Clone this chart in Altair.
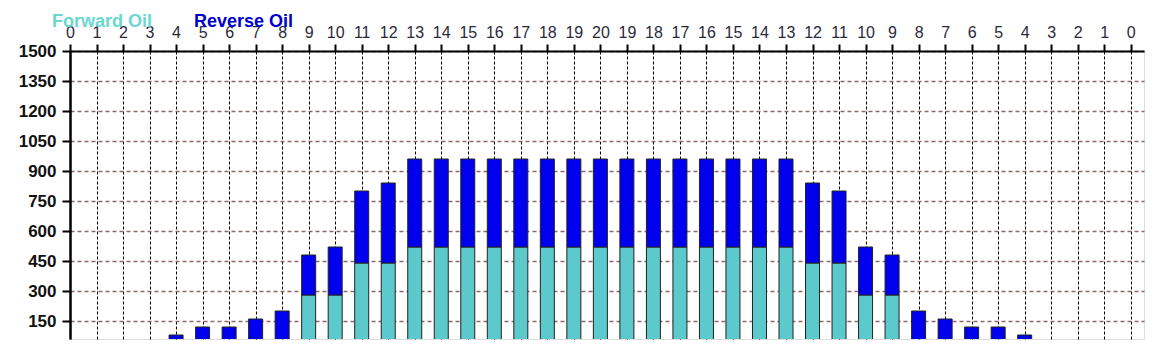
import altair as alt
import pandas as pd

# 41 positions along the top axis
tick_labels = [str(i) for i in range(0, 21)] + [str(i) for i in range(19, -1, -1)]
forward_oil = [0, 0, 0, 0, 0, 0, 0, 0, 0, 280, 280, 440, 440,
               520, 520, 520, 520, 520, 520, 520, 520, 520, 520, 520, 520, 520, 520, 520,
               440, 440, 280, 280, 0, 0, 0, 0, 0, 0, 0, 0, 0]
reverse_oil = [0, 0, 0, 0, 80, 120, 120, 160, 200, 200, 240, 360, 400,
               440, 440, 440, 440, 440, 440, 440, 440, 440, 440, 440, 440, 440, 440, 440,
               400, 360, 240, 200, 200, 160, 120, 120, 80, 0, 0, 0, 0]
series = ["Forward Oil", "Reverse Oil"]
colors = ["#5ccacc", "#0000ee"]

rows = []
for i in range(len(tick_labels)):
    rows.append({"pos": i, "series": series[0], "ord": 0, "value": forward_oil[i]})
    rows.append({"pos": i, "series": series[1], "ord": 1, "value": reverse_oil[i]})
df = pd.DataFrame(rows)

label_expr = "'' + (datum.value <= 20 ? datum.value : 40 - datum.value)"

chart = alt.Chart(df).mark_bar(
    size=14, stroke="#222222", strokeWidth=1, clip=True
).encode(
    x=alt.X("pos:Q",
            scale=alt.Scale(domain=[0, 40.5], nice=False, zero=False, padding=0),
            axis=alt.Axis(orient="top", values=list(range(41)), labelExpr=label_expr,
                          title=None, grid=True, gridColor="#000000", gridDash=[3, 2],
                          gridWidth=1, domainColor="#000000", domainWidth=2,
                          tickColor="#000000", tickWidth=2, tickSize=7,
                          labelFont="Liberation Sans", labelFontSize=16,
                          labelColor="#2a2a3a", labelPadding=4, labelFlush=False)),
    y=alt.Y("value:Q", stack="zero",
            scale=alt.Scale(domain=[60, 1500], nice=False, zero=False, padding=0),
            axis=alt.Axis(values=list(range(150, 1501, 150)), format="d", title=None,
                          grid=True, gridColor="#8a6a6a", gridDash=[4, 3], gridWidth=1.5,
                          domainColor="#000000", domainWidth=2.5,
                          tickColor="#000000", tickWidth=2, tickSize=8,
                          labelFont="Liberation Sans", labelFontSize=17,
                          labelFontWeight="bold", labelColor="#111111",
                          labelPadding=6)),
    color=alt.Color("series:N",
                    scale=alt.Scale(domain=series, range=colors),
                    legend=alt.Legend(
                        title=None, orient="none", legendX=-36, legendY=-38,
                        direction="horizontal", symbolSize=0, symbolOpacity=0,
                        symbolStrokeWidth=0, labelOffset=0, columnPadding=23,
                        labelFont="Liberation Sans", labelFontSize=18,
                        labelFontWeight="bold",
                        labelColor={"expr": "datum.label == 'Forward Oil' ? '#6ad8d0' : '#0000cc'"})),
    order=alt.Order("ord:Q", sort="ascending"),
).properties(
    width=1074, height=288,
    autosize=alt.AutoSizeParams(type="none"),
    padding={"left": 62, "top": 43, "right": 8, "bottom": 8},
).configure_view(
    stroke="#000000", strokeWidth=1.5
).configure(background="#ffffff")

chart.save("out.html", embed_options={"renderer": "svg", "actions": False})
